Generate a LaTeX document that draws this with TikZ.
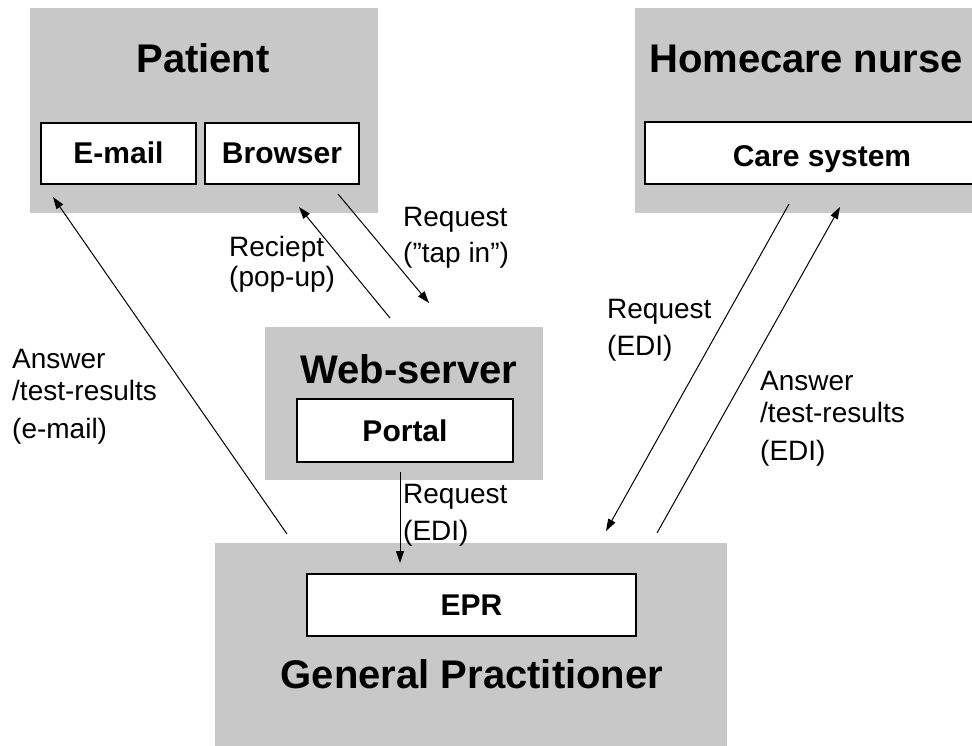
\documentclass[tikz,border=0pt]{standalone}
\usepackage{fontspec}
\setmainfont{Liberation Sans}
\usetikzlibrary{arrows.meta}
\definecolor{shade}{RGB}{200,200,200}
\begin{document}
\begin{tikzpicture}[x=1pt,y=-1pt,
  panel/.style={fill=shade,draw=none,inner sep=0pt},
  inbox/.style={fill=white,draw=black,line width=1.3pt,inner sep=0pt,
    text height=21pt,text depth=0pt,font=\fontsize{30}{36}\selectfont\bfseries},
  titletext/.style={inner sep=0pt,anchor=base,font=\fontsize{40}{48}\selectfont\bfseries},
  lbl/.style={inner sep=0pt,anchor=base west,align=left,font=\fontsize{28}{32}\selectfont},
  arr/.style={line width=1pt,-{Triangle[length=12pt,width=8pt]}}]
\useasboundingbox (0,0) rectangle (972,746);
\clip (0,0) rectangle (972,746);
\fill[white] (0,0) rectangle (972,746);

% panels
\node[panel,minimum width=348pt,minimum height=205pt] (patient) at (204,110.5) {};
\node[panel,minimum width=355pt,minimum height=205pt] (homecare) at (812.5,110.5) {};
\node[panel,minimum width=278pt,minimum height=153pt] (web) at (404,403.5) {};
\node[panel,minimum width=512pt,minimum height=217pt] (gp) at (471,651.5) {};

% titles
\node[titletext] (tpatient) at (203,73) {Patient};
\node[titletext,anchor=base west] (thome) at (649,73) {Homecare nurse};
\node[titletext] (tweb) at (409,383) {Web-server};
\node[titletext] (tgp) at (472,688) {General Practitioner};

% inner boxes
\node[inbox,minimum width=155pt,minimum height=61pt] (email) at (118.5,153.5) {E-mail};
\node[inbox,minimum width=154pt,minimum height=61pt] (browser) at (282,153.5) {Browser};
\node[inbox,minimum width=354pt,minimum height=62pt,text height=28pt] (care) at (822,153) {Care system};
\node[inbox,minimum width=216pt,minimum height=63pt] (portal) at (405,430.5) {Portal};
\node[inbox,minimum width=329pt,minimum height=62pt] (epr) at (471.5,605) {EPR};

% connector end points
\coordinate (a1s) at (287,534);  \coordinate (a1e) at (53,197);
\coordinate (a2s) at (390,318);  \coordinate (a2e) at (299,207);
\coordinate (a3s) at (338,194);  \coordinate (a3e) at (429,303);
\coordinate (a4s) at (400,472);  \coordinate (a4e) at (400,563);
\coordinate (a5s) at (789,204);  \coordinate (a5e) at (606,531);
\coordinate (a6s) at (657,533);  \coordinate (a6e) at (840,207);

\draw[arr] (a1s) -- (a1e);
\draw[arr] (a2s) -- (a2e);
\draw[arr] (a3s) -- (a3e);
\draw[arr] (a4s) -- (a4e);
\draw[arr] (a5s) -- (a5e);
\draw[arr] (a6s) -- (a6e);

% labels (base anchor = baseline of the last line)
\node[lbl] (lans1) at (12,438) {Answer\\/test-results\\[6pt](e-mail)};
\node[lbl] (lrec) at (229,287) {Reciept\\[-1pt](pop-up)};
\node[lbl] (ltap) at (403,262) {Request\\[4pt](”tap in”)};
\node[lbl] (lmid) at (403,540) {Request\\[5pt](EDI)};
\node[lbl] (lreq) at (607,355) {Request\\[5pt](EDI)};
\node[lbl] (lans2) at (760,460) {Answer\\/test-results\\[6pt](EDI)};
\end{tikzpicture}
\end{document}
